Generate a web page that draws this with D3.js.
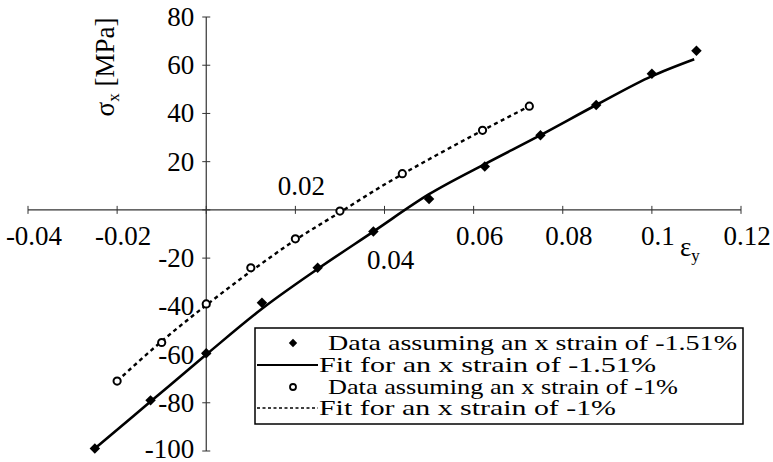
<!DOCTYPE html>
<html>
<head>
<meta charset="utf-8">
<script src="https://cdn.jsdelivr.net/npm/d3@7"></script>
<style>
  body { margin: 0; background: #fff; font-family: "Liberation Serif", serif; }
</style>
</head>
<body>
<svg id="chart" width="773" height="462"></svg>
<script>
// data
var diamondX = [-0.025, -0.0125, 0, 0.0125, 0.025, 0.0375, 0.05, 0.0625, 0.075, 0.0875, 0.1, 0.11];
var diamondY = [-99, -79, -59.5, -38.5, -24, -9, 4.5, 18, 31, 43.5, 56.5, 66];
var fitSolidX = [-0.025, -0.0125, 0, 0.0125, 0.025, 0.0375, 0.05, 0.0625, 0.075, 0.0875, 0.1, 0.1095];
var fitSolidY = [-99, -79.5, -60, -41, -24.5, -9, 6.5, 19, 31, 43.5, 55.5, 62.5];
var circleX = [-0.02, -0.01, 0, 0.01, 0.02, 0.03, 0.044, 0.062, 0.0725];
var circleY = [-71, -55, -39, -24, -12, -0.5, 15, 33, 43];
var fitDashX = [-0.02, -0.01, 0, 0.01, 0.02, 0.03, 0.04, 0.05, 0.06, 0.0725];
var fitDashY = [-71, -54.5, -39.5, -25.5, -12.5, -1, 10.5, 21, 31, 43];
var xTicks = [-0.04, -0.02, 0.02, 0.04, 0.06, 0.08, 0.1, 0.12];
var xTickLabels = ['-0.04', '-0.02', '0.02', '0.04', '0.06', '0.08', '0.1', '0.12'];
var yTicks = [80, 60, 40, 20, -20, -40, -60, -80, -100];
var legendLabels = [
  'Data assuming an x strain of -1.51%',
  'Fit for an x strain of -1.51%',
  'Data assuming an x strain of -1%',
  'Fit for an x strain of -1%'
];

var svg = d3.select('#chart');

var x = d3.scaleLinear().domain([-0.04, 0.12]).range([28, 741]);
var y = d3.scaleLinear().domain([-100, 80]).range([451, 17]);

function zip(xs, ys) {
  return xs.map(function (v, i) { return { x: v, y: ys[i] }; });
}

// every text goes through here so the serif face is set inline
function addText(sel, size) {
  return sel.append('text')
    .style('font-family', '"Liberation Serif", serif')
    .style('font-size', size + 'px');
}

//-------------------------------
// axes, crossing at zero
var axes = svg.append('g').attr('class', 'axes');

axes.append('line')
  .attr('x1', x(-0.04)).attr('x2', x(0.12))
  .attr('y1', y(0)).attr('y2', y(0))
  .attr('stroke', '#333').attr('stroke-width', 1.2);

axes.append('line')
  .attr('x1', x(0)).attr('x2', x(0))
  .attr('y1', y(80)).attr('y2', y(-100))
  .attr('stroke', '#333').attr('stroke-width', 1.2);

var xTickVals = [-0.04, -0.02, 0, 0.02, 0.04, 0.06, 0.08, 0.1, 0.12];
axes.selectAll('.xtick')
  .data(xTickVals)
  .enter()
  .append('line')
  .attr('class', 'xtick')
  .attr('x1', function (d) { return x(d); })
  .attr('x2', function (d) { return x(d); })
  .attr('y1', y(0) - 4)
  .attr('y2', y(0) + 4)
  .attr('stroke', '#333');

axes.selectAll('.ytick')
  .data(yTicks.concat([0]))
  .enter()
  .append('line')
  .attr('class', 'ytick')
  .attr('x1', x(0) - 4)
  .attr('x2', x(0) + 4)
  .attr('y1', function (d) { return y(d); })
  .attr('y2', function (d) { return y(d); })
  .attr('stroke', '#333');

// x labels: 0.02 sits above the axis, 0.04 was pushed further down
xTicks.forEach(function (d, i) {
  var ty = y(0) + 35;
  if (d === 0.02) ty = y(0) - 15;
  if (d === 0.04) ty = y(0) + 59;
  addText(axes, 27)
    .attr('text-anchor', 'middle')
    .attr('x', x(d) + 6)
    .attr('y', ty)
    .text(xTickLabels[i]);
});

yTicks.forEach(function (d) {
  addText(axes, 27)
    .attr('text-anchor', 'end')
    .attr('x', x(0) - 12)
    .attr('y', y(d) + (d === -100 ? 7 : 9))
    .text(d);
});

// axis titles
var yTitle = addText(svg, 27)
  .attr('transform', 'translate(114,67) rotate(-90)')
  .attr('text-anchor', 'middle');
yTitle.append('tspan').text('σ');
yTitle.append('tspan').style('font-size', '17px').attr('dy', 5).text('x');
yTitle.append('tspan').attr('dy', -5).text(' [MPa]');

var xTitle = addText(svg, 27)
  .attr('x', 680)
  .attr('y', 256);
xTitle.append('tspan').text('ε');
xTitle.append('tspan').style('font-size', '17px').attr('dy', 5).text('y');

//-------------------------------
// fit lines
var line = d3.line()
  .curve(d3.curveMonotoneX)
  .x(function (d) { return x(d.x); })
  .y(function (d) { return y(d.y); });

svg.append('path')
  .attr('d', line(zip(fitSolidX, fitSolidY)))
  .attr('fill', 'none')
  .attr('stroke', '#000')
  .attr('stroke-width', 2.6);

svg.append('path')
  .attr('d', line(zip(fitDashX, fitDashY)))
  .attr('fill', 'none')
  .attr('stroke', '#000')
  .attr('stroke-width', 2.4)
  .attr('stroke-dasharray', '4,3.5');

// data markers
var diamond = d3.symbol().type(d3.symbolDiamond2).size(70);

svg.selectAll('.diamond')
  .data(zip(diamondX, diamondY))
  .enter()
  .append('path')
  .attr('class', 'diamond')
  .attr('d', diamond)
  .attr('transform', function (d) {
    return 'translate(' + x(d.x) + ',' + y(d.y) + ')';
  })
  .attr('fill', '#000');

svg.selectAll('.circle')
  .data(zip(circleX, circleY))
  .enter()
  .append('circle')
  .attr('class', 'circle')
  .attr('cx', function (d) { return x(d.x); })
  .attr('cy', function (d) { return y(d.y); })
  .attr('r', 3.6)
  .attr('fill', '#fff')
  .attr('stroke', '#000')
  .attr('stroke-width', 2);

//-------------------------------
// legend
var legend = svg.append('g').attr('class', 'legend');

legend.append('rect')
  .attr('x', 255).attr('y', 328)
  .attr('width', 488).attr('height', 96)
  .attr('fill', '#fff')
  .attr('stroke', '#000')
  .attr('stroke-width', 1.5);

var rowY = [343, 365, 387, 408];

legend.append('path')
  .attr('d', d3.symbol().type(d3.symbolDiamond2).size(45))
  .attr('transform', 'translate(293,' + rowY[0] + ')');

legend.append('line')
  .attr('x1', 257).attr('x2', 318)
  .attr('y1', rowY[1]).attr('y2', rowY[1])
  .attr('stroke', '#000').attr('stroke-width', 2);

legend.append('circle')
  .attr('cx', 293).attr('cy', rowY[2]).attr('r', 3)
  .attr('fill', '#fff').attr('stroke', '#000').attr('stroke-width', 1.8);

legend.append('line')
  .attr('x1', 257).attr('x2', 318)
  .attr('y1', rowY[3]).attr('y2', rowY[3])
  .attr('stroke', '#000').attr('stroke-width', 1.6)
  .attr('stroke-dasharray', '3,2.5');

var textX = [328, 319, 328, 319];
var textW = [409, 337, 350, 297];
legendLabels.forEach(function (d, i) {
  addText(legend, 22)
    .attr('x', textX[i])
    .attr('y', rowY[i] + 7)
    .attr('textLength', textW[i])
    .attr('lengthAdjust', 'spacingAndGlyphs')
    .text(d);
});
</script>
</body>
</html>
